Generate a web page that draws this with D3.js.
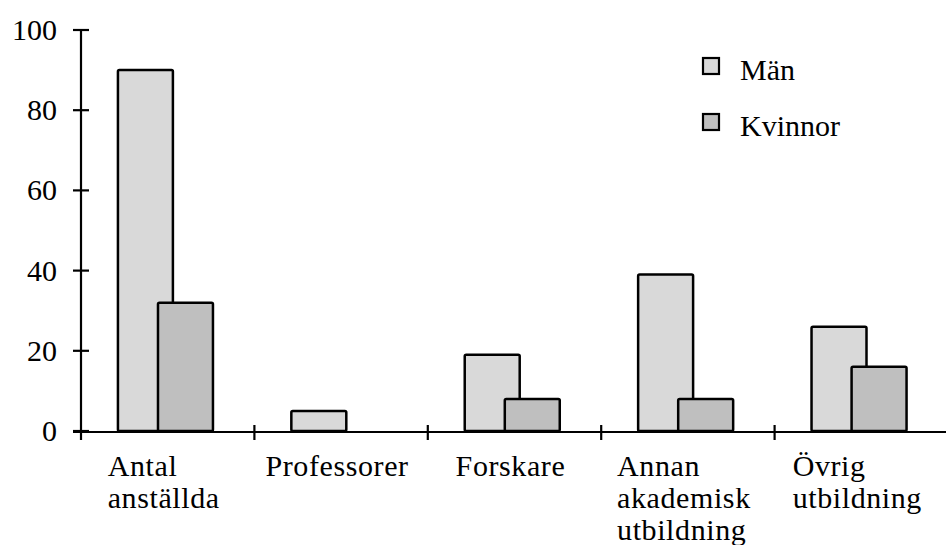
<!DOCTYPE html>
<html>
<head>
<meta charset="utf-8">
<script src="https://cdn.jsdelivr.net/npm/d3@7"></script>
<style>
  html, body { margin: 0; padding: 0; background: #fff; }
  svg { display: block; }
</style>
</head>
<body>
<svg id="chart" width="946" height="545"></svg>
<script>
// Personal per kategori, män och kvinnor
const categories = [
  ["Antal", "anställda"],
  ["Professorer"],
  ["Forskare"],
  ["Annan", "akademisk", "utbildning"],
  ["Övrig", "utbildning"]
];
const seriesNames = ["Män", "Kvinnor"];
const man = [90, 5, 19, 39, 26];
const kvinnor = [32, 0, 8, 8, 16];
const yTicks = [0, 20, 40, 60, 80, 100];
const colors = ["#d9d9d9", "#bfbfbf"];

const FONT = "Liberation Serif";

const svg = d3.select("#chart");
const keys = categories.map((c, i) => "c" + i);

const x = d3.scaleBand().domain(keys).range([81, 948]).padding(0);
const y = d3.scaleLinear().domain([0, 100]).range([431, 30]);

const bw = x.bandwidth();
const barW = bw * 0.317;
const offsets = [bw * 0.213, bw * 0.444];
const series = [man, kvinnor];

function label(sel) {
  return sel.style("font-family", FONT)
    .attr("font-size", 30);
}

// Bars: Män first, Kvinnor drawn over them
series.forEach((vals, s) => {
  svg.append("g")
    .selectAll("rect")
    .data(vals.map((v, i) => ({ v, k: keys[i] })).filter(d => d.v > 0))
    .join("rect")
    .attr("x", d => x(d.k) + offsets[s])
    .attr("y", d => y(d.v))
    .attr("width", barW)
    .attr("height", d => y(0) - y(d.v))
    .attr("rx", 1.5)
    .attr("fill", colors[s])
    .attr("stroke", "#000")
    .attr("stroke-width", 2.5)
    .attr("stroke-linejoin", "round");
});

// Y axis
const yAxis = svg.append("g");
yAxis.append("line")
  .attr("x1", 81).attr("x2", 81)
  .attr("y1", y(100)).attr("y2", y(0) + 9)
  .attr("stroke", "#000").attr("stroke-width", 2.2);
yAxis.selectAll("line.tick")
  .data(yTicks)
  .join("line")
  .attr("class", "tick")
  .attr("x1", 73).attr("x2", 89)
  .attr("y1", d => y(d)).attr("y2", d => y(d))
  .attr("stroke", "#000").attr("stroke-width", 2.2);
yAxis.selectAll("text")
  .data(yTicks)
  .join("text")
  .attr("x", 57)
  .attr("y", d => y(d) + 10)
  .attr("text-anchor", "end")
  .call(label)
  .text(d => d);

// X axis
const xAxis = svg.append("g");
xAxis.append("line")
  .attr("x1", 73).attr("x2", 946)
  .attr("y1", y(0) + 1).attr("y2", y(0) + 1)
  .attr("stroke", "#000").attr("stroke-width", 2.2);
xAxis.selectAll("line.tick")
  .data(keys.slice(1))
  .join("line")
  .attr("class", "tick")
  .attr("x1", d => x(d)).attr("x2", d => x(d))
  .attr("y1", y(0) - 6).attr("y2", y(0) + 9)
  .attr("stroke", "#000").attr("stroke-width", 2.2);

// Category labels: multi-line blocks, lines left-aligned
const catLabels = categories.map((lines, i) => {
  const t = xAxis.append("text").call(label).style("letter-spacing", "0.6px");
  lines.forEach((ln, j) => {
    t.append("tspan").attr("x", x(keys[i]) + bw * 0.14).attr("y", 476 + j * 32).text(ln);
  });
  return t;
});

// Centre each block in its band once the fonts are in place
document.fonts.ready.then(() => requestAnimationFrame(() => {
  catLabels.forEach((t, i) => {
    let maxW = 0;
    t.selectAll("tspan").each(function () {
      maxW = Math.max(maxW, this.getComputedTextLength());
    });
    t.selectAll("tspan").attr("x", x(keys[i]) + bw / 2 - maxW / 2 - 4);
  });
}));

// Legend
const legend = svg.append("g");
seriesNames.forEach((name, i) => {
  const cy = 66 + i * 56;
  legend.append("rect")
    .attr("x", 703).attr("y", cy - 8)
    .attr("width", 16).attr("height", 16)
    .attr("fill", colors[i])
    .attr("stroke", "#000").attr("stroke-width", 2.2);
  legend.append("text")
    .attr("x", 740).attr("y", cy + 14)
    .call(label)
    .text(name);
});
</script>
</body>
</html>
